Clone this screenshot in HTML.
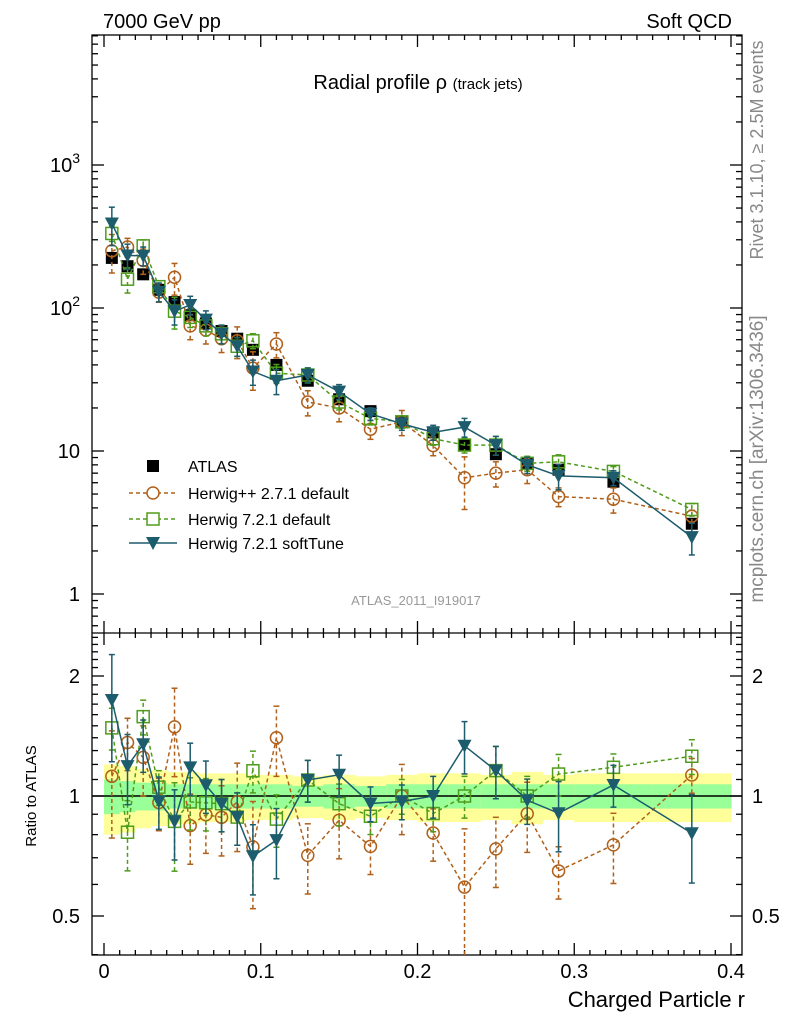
<!DOCTYPE html>
<html><head><meta charset="utf-8"><style>
body{margin:0;background:#fff;}
svg{display:block;font-family:"Liberation Sans",sans-serif;}
</style></head><body>
<svg id="chart" width="786" height="1024" viewBox="0 0 786 1024">
<text x="103" y="28" font-size="20">7000 GeV pp</text>
<text x="732" y="28" font-size="20" text-anchor="end">Soft QCD</text>
<text x="418" y="89" font-size="20" text-anchor="middle">Radial profile ρ <tspan font-size="15">(track jets)</tspan></text>
<text x="416" y="605" font-size="13" fill="#999" text-anchor="middle">ATLAS_2011_I919017</text>
<text transform="translate(763,150) rotate(-90)" font-size="18" fill="#888" text-anchor="middle">Rivet 3.1.10, ≥ 2.5M events</text>
<text transform="translate(763,459) rotate(-90)" font-size="19" fill="#888" text-anchor="middle">mcplots.cern.ch [arXiv:1306.3436]</text>
<text transform="translate(36,796) rotate(-90)" font-size="15" text-anchor="middle">Ratio to ATLAS</text>
<text x="745" y="1007" font-size="22" text-anchor="end">Charged Particle r</text>
<g id="g"></g>
</svg>
<script>
const xs = [0.005,0.015,0.025,0.035,0.045,0.055,0.065,0.075,0.085,0.095,0.11,0.13,0.15,0.17,0.19,0.21,0.23,0.25,0.27,0.29,0.325,0.375];
const edges = [0,0.01,0.02,0.03,0.04,0.05,0.06,0.07,0.08,0.09,0.1,0.12,0.14,0.16,0.18,0.2,0.22,0.24,0.26,0.28,0.3,0.35,0.4];
const atlas = [224,196,172,134,110,89,78,69,61,51,40,31,23,19,16,13.5,11,9.5,8.2,7.4,6.1,3.1];
const atlasYellow = [0.2,0.19,0.17,0.16,0.15,0.15,0.14,0.14,0.14,0.13,0.13,0.12,0.13,0.12,0.13,0.14,0.14,0.13,0.15,0.13,0.14,0.14];
const atlasGreen = [0.10,0.09,0.08,0.08,0.07,0.07,0.07,0.07,0.07,0.07,0.07,0.06,0.07,0.06,0.07,0.07,0.07,0.07,0.07,0.07,0.07,0.07];
const herwigpp = [251,267,215,129,164,75,70,61,59,38,56,22,20,14.2,16,10.9,6.5,7.0,7.4,4.8,4.6,3.5];
const herwigppErr = [0.3,0.15,0.2,0.15,0.25,0.2,0.2,0.2,0.25,0.3,0.2,0.2,0.2,0.15,0.2,0.15,0.4,0.2,0.2,0.15,0.2,0.1];
const herwig7 = [332,159,272,141,95,86,75,66,54,59,35,34,22,16.9,16,12.2,11,11,8.2,8.4,7.2,3.9];
const herwig7Err = [0.12,0.2,0.1,0.1,0.25,0.15,0.15,0.15,0.15,0.12,0.15,0.12,0.12,0.1,0.1,0.1,0.12,0.15,0.12,0.12,0.08,0.1];
const softTune = [390,233,232,130,95,105,83,66,54,36,31,34,26,18.2,15.5,13.5,14.7,11.0,8.0,6.7,6.5,2.5];
const softTuneErr = [0.3,0.2,0.15,0.15,0.2,0.15,0.15,0.15,0.15,0.2,0.2,0.12,0.12,0.1,0.1,0.12,0.15,0.15,0.13,0.2,0.12,0.25];
const mainTicks = [1,10,100,1000];
const mainTickBase = ["1","10","10","10"];
const mainTickExp = ["","","2","3"];
const ratioTicks = [0.5,1,2];
const ratioTickLabels = ["0.5","1","2"];
const xTicks = [0,0.1,0.2,0.3,0.4];
const xTickLabels = ["0","0.1","0.2","0.3","0.4"];

const L=92,R=742,T=35,M=633,B=955;
const X=v=>104+v*1567.5;
const Y=v=>594-143*Math.log10(v);
const YR=v=>796-120*Math.log2(v);
const NS="http://www.w3.org/2000/svg";
const g=document.getElementById('g');
function el(tag,attrs,parent){const e=document.createElementNS(NS,tag);for(const k in attrs)e.setAttribute(k,attrs[k]);(parent||g).appendChild(e);return e;}

const bands=el('g',{});


for(let i=0;i<xs.length;i++){
  const x0=X(edges[i]),x1=X(edges[i+1]);
  const y=el('rect',{x:x0,y:YR(1+atlasYellow[i]),width:x1-x0+0.5,height:YR(1-atlasYellow[i])-YR(1+atlasYellow[i]),fill:'#ffff99'},bands);
  
  
  const gr=el('rect',{x:x0,y:YR(1+atlasGreen[i]),width:x1-x0+0.5,height:YR(1-atlasGreen[i])-YR(1+atlasGreen[i]),fill:'#99ff99'},bands);
  
  
}
const one=el('line',{x1:L,x2:R,y1:YR(1),y2:YR(1),stroke:'#000','stroke-width':1.5});



const ax=el('g',{stroke:'#000','stroke-width':1.3,fill:'none'});


el('rect',{x:L,y:T,width:R-L,height:B-T},ax);
el('line',{x1:L,x2:R,y1:M,y2:M},ax);
for(let v=0;v<=0.4001;v+=0.01){
  const major=Math.abs(v*10-Math.round(v*10))<1e-6, len=major?12:5;
  const x=X(v);
  [[T,1],[M,-1],[M,1],[B,-1]].forEach(([y0,d])=>el('line',{x1:x,x2:x,y1:y0,y2:y0+d*len},ax));
}
for(let d=0.1;d<=5000;d*=10){for(let k=1;k<10;k++){const v=d*k;const y=Y(v);if(y<T||y>M)continue;const len=k===1?12:6;
  el('line',{x1:L,x2:L+len,y1:y,y2:y},ax);el('line',{x1:R,x2:R-len,y1:y,y2:y},ax);}}
for(let v=0.4;v<=2.5;v=Math.round((v+0.1)*10)/10){const y=YR(v);if(y<M||y>B)continue;const len=(v===0.5||v===1||v===2)?12:6;
  el('line',{x1:L,x2:L+len,y1:y,y2:y},ax);el('line',{x1:R,x2:R-len,y1:y,y2:y},ax);}
xTicks.forEach((v,i)=>{const t=el('text',{x:X(v),y:978,'font-size':20,'text-anchor':'middle'});t.textContent=xTickLabels[i];
  
  });
mainTicks.forEach((v,i)=>{const t=el('text',{x:80,y:Y(v)+7,'font-size':20,'text-anchor':'end'});
  if(mainTickExp[i]){t.innerHTML=mainTickBase[i]+'<tspan font-size="14" dy="-9">'+mainTickExp[i]+'</tspan>';}else t.textContent=mainTickBase[i];
  
  });
ratioTicks.forEach((v,i)=>{[[80,'end'],[752,'start']].forEach(([x,a])=>{const t=el('text',{x:x,y:YR(v)+7,'font-size':20,'text-anchor':a});t.textContent=ratioTickLabels[i];
  
  });});

function marker(type,x,y,col,par){
  if(type==='circ')return el('circle',{cx:x,cy:y,r:6,fill:'none',stroke:col,'stroke-width':1.5},par);
  if(type==='sq')return el('rect',{x:x-6,y:y-6,width:12,height:12,fill:'none',stroke:col,'stroke-width':1.5},par);
  if(type==='tri')return el('path',{d:`M${x-7},${y-6}L${x+7},${y-6}L${x},${y+7}Z`,fill:col},par);
  return el('rect',{x:x-6,y:y-6,width:12,height:12,fill:'#000'},par);
}
function series(name,vals,errs,col,type,dash,ratio){
  const Yf=ratio?YR:Y;
  const vv=ratio?vals.map((v,i)=>v/atlas[i]):vals;
  const top=ratio?M:T,bot=ratio?B:M;
  const grp=el('g',{});
  
  
  const pts=xs.map((x,i)=>X(x)+','+Yf(vv[i])).join(' ');
  el('polyline',{points:pts,fill:'none',stroke:col,'stroke-width':1.5,'stroke-dasharray':dash||''},grp);
  xs.forEach((x,i)=>{
    const px=X(x),lo=Math.max(Math.min(Yf(vv[i]*(1-errs[i])),bot),top),hi=Math.max(Yf(vv[i]*(1+errs[i])),top);
    el('line',{x1:px,x2:px,y1:lo,y2:hi,stroke:col,'stroke-width':1.5,'stroke-dasharray':dash||''},grp);
    if(lo<bot)el('line',{x1:px-3,x2:px+3,y1:lo,y2:lo,stroke:col,'stroke-width':1.5},grp);
    el('line',{x1:px-3,x2:px+3,y1:hi,y2:hi,stroke:col,'stroke-width':1.5},grp);
    const m=marker(type,px,Yf(vv[i]),col,grp);
    
    
  });
}
const C1='#b0601a',C2='#4f9c1c',C3='#1c5c6c';
const ag=el('g',{});


series('herwigpp-271',herwigpp,herwigppErr,C1,'circ','4,3',false);
series('herwig-721-default',herwig7,herwig7Err,C2,'sq','4,3',false);
xs.forEach((x,i)=>{const m=marker('atlas',X(x),Y(atlas[i]),'#000',ag);
  
  });
series('herwig-721-softtune',softTune,softTuneErr,C3,'tri','',false);
series('herwigpp-271',herwigpp,herwigppErr,C1,'circ','4,3',true);
series('herwig-721-default',herwig7,herwig7Err,C2,'sq','4,3',true);
series('herwig-721-softtune',softTune,softTuneErr,C3,'tri','',true);

const lg=el('g',{});


const leg=[['ATLAS','atlas','#000',''],['Herwig++ 2.7.1 default','circ',C1,'4,3'],['Herwig 7.2.1 default','sq',C2,'4,3'],['Herwig 7.2.1 softTune','tri',C3,'']];
const ly=[466,493,519,543];
leg.forEach((l,i)=>{const e=el('g',{},lg);
  
  
  if(l[1]!=='atlas')el('line',{x1:129,x2:177,y1:ly[i],y2:ly[i],stroke:l[2],'stroke-width':1.5,'stroke-dasharray':l[3]},e);
  if(l[1]==='circ'||l[1]==='sq')el('rect',{x:147,y:ly[i]-7,width:12,height:14,fill:'#fff'},e);
  marker(l[1],153,ly[i],l[2],e);
  const t=el('text',{x:188,y:ly[i]+6,'font-size':16},e);t.textContent=l[0];});
</script>
</body></html>
